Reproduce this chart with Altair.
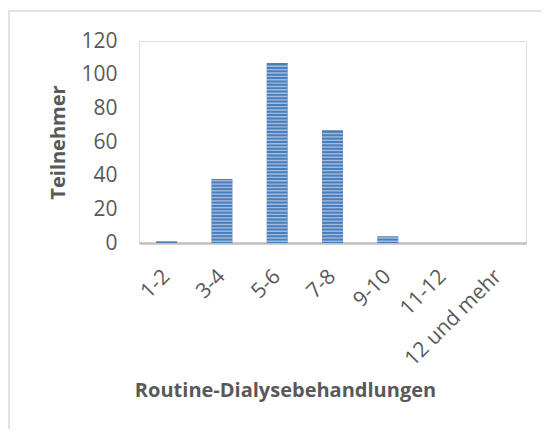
import altair as alt
import pandas as pd

categories = ["1-2", "3-4", "5-6", "7-8", "9-10", "11-12", "12 und mehr"]
values = [1, 38, 107, 67, 4, 0, 0]

df = pd.DataFrame({"cat": categories, "value": values})

FONT = "Open Sans"
GRAY = "#595959"

xscale = alt.Scale(domain=categories, paddingInner=0.62, paddingOuter=0.31)
yscale = alt.Scale(domain=[0, 120])

xaxis = alt.Axis(title="Routine-Dialysebehandlungen", labelAngle=-45,
                 labelAlign="right", labelBaseline="middle",
                 labelPadding=30, labelFontSize=21, labelColor=GRAY,
                 labelFont=FONT, ticks=False, domainColor="#bfbfbf",
                 domainWidth=2.5, titleFont=FONT, titleFontSize=20,
                 titleColor=GRAY, titleFontWeight="bold",
                 titleX=146, titleY=147, titleAlign="center",
                 titleBaseline="middle", labelOverlap=False)
yaxis = alt.Axis(title="Teilnehmer", values=[0, 20, 40, 60, 80, 100, 120],
                 grid=False, domain=False, ticks=False, labelPadding=22,
                 labelFontSize=21, labelColor=GRAY, labelFont=FONT,
                 titleFont=FONT, titleFontSize=20, titleColor=GRAY,
                 titleFontWeight="bold", titleAngle=-90, titleX=-81,
                 titleY=101, titleAlign="center", titleBaseline="middle")

base = alt.Chart(df)

bars = base.mark_bar(color="#4a7ebb").encode(
    x=alt.X("cat:N", sort=categories, scale=xscale, axis=xaxis),
    y=alt.Y("value:Q", scale=yscale, axis=yaxis),
)

stripes = base.transform_calculate(
    s="sequence(1, datum.value, 2)"
).transform_flatten(["s"]).mark_tick(
    color="#c3d5ec", thickness=1.4, size=21, orient="horizontal"
).encode(
    x=alt.X("cat:N", sort=categories, scale=xscale, axis=xaxis),
    y=alt.Y("s:Q", scale=yscale, axis=yaxis),
)

border = alt.Chart(pd.DataFrame({"a": [0]})).mark_rect(
    fill="transparent", stroke="#d9d9d9", strokeWidth=1.5
).encode(
    x=alt.value(-130), x2=alt.value(600), y=alt.value(-30), y2=alt.value(600)
)

chart = alt.layer(border, bars, stripes).properties(
    width=387, height=202,
    autosize=alt.AutoSizeParams(type="none"),
    padding={"left": 131, "top": 33, "right": 15, "bottom": 186},
).configure_view(strokeWidth=0).configure(background="white")

chart.save("out.html", embed_options={"renderer": "svg", "actions": False})
